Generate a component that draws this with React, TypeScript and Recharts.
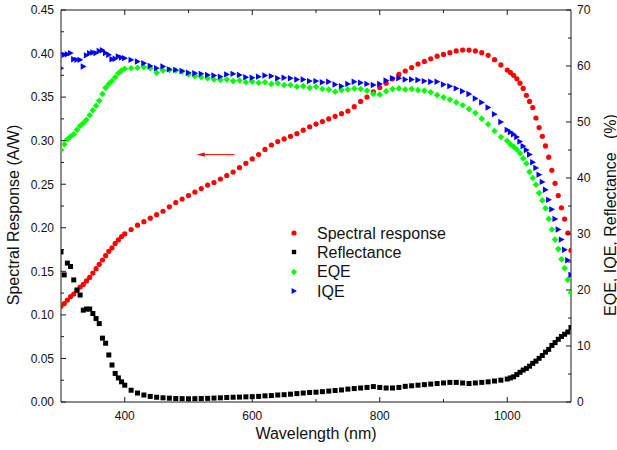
import React from 'react';
import { ScatterChart, Scatter, XAxis, YAxis, Legend, ReferenceLine } from 'recharts';

const FONT = '"Liberation Sans", Arial, sans-serif';
const AXIS_COLOR = '#1a1a1a';
const TEXT_COLOR = '#111111';

// Wavelength (nm)
const wavelength = [
  300, 305, 310, 315, 320, 325, 330, 335, 340, 345, 350, 355, 360, 365, 370, 375, 380, 385, 390, 395, 400,
  410, 420, 430, 440, 450, 460, 470, 480, 490, 500,
  510, 520, 530, 540, 550, 560, 570, 580, 590, 600,
  610, 620, 630, 640, 650, 660, 670, 680, 690, 700,
  710, 720, 730, 740, 750, 760, 770, 780, 790, 800,
  810, 820, 830, 840, 850, 860, 870, 880, 890, 900,
  910, 920, 930, 940, 950, 960, 970, 980, 990,
  1000, 1005, 1010, 1015, 1020, 1025, 1030, 1035, 1040, 1045, 1050,
  1055, 1060, 1065, 1070, 1075, 1080, 1085, 1090, 1095, 1100,
];

// Spectral response (A/W) - left axis
const spectralResponse = [
  0.110, 0.113, 0.117, 0.121, 0.124, 0.128, 0.132, 0.135, 0.139, 0.143, 0.148, 0.153, 0.158, 0.163, 0.168, 0.173, 0.177, 0.182, 0.186, 0.190, 0.193,
  0.198, 0.203, 0.207, 0.211, 0.215, 0.219, 0.224, 0.229, 0.233, 0.237,
  0.241, 0.245, 0.249, 0.252, 0.256, 0.260, 0.264, 0.269, 0.274, 0.279,
  0.284, 0.290, 0.295, 0.299, 0.302, 0.305, 0.308, 0.312, 0.316, 0.319,
  0.322, 0.325, 0.328, 0.331, 0.334, 0.339, 0.345, 0.350, 0.356, 0.361,
  0.366, 0.371, 0.376, 0.380, 0.384, 0.388, 0.391, 0.394, 0.397, 0.399,
  0.401, 0.403, 0.404, 0.404, 0.403, 0.401, 0.398, 0.393, 0.387,
  0.381, 0.378, 0.375, 0.371, 0.366, 0.360, 0.352, 0.345, 0.338, 0.326, 0.315,
  0.305, 0.294, 0.281, 0.266, 0.251, 0.237, 0.223, 0.210, 0.194, 0.174,
];

// Reflectance (%) - right axis
const reflectance = [
  26.8, 22.7, 24.8, 24.2, 21.8, 20.0, 19.1, 16.4, 16.6, 16.6, 15.8, 14.9, 14.0, 11.4, 10.5, 8.4, 6.6, 5.1, 4.3, 3.6, 3.0,
  2.1, 1.6, 1.25, 1.0, 0.85, 0.75, 0.68, 0.62, 0.6, 0.58,
  0.6, 0.62, 0.65, 0.7, 0.75, 0.8, 0.85, 0.88, 0.92, 0.95,
  1.0, 1.1, 1.15, 1.25, 1.3, 1.4, 1.5, 1.6, 1.7, 1.75,
  1.85, 1.95, 2.05, 2.15, 2.3, 2.4, 2.5, 2.6, 2.75, 2.6,
  2.5, 2.5, 2.6, 2.8, 2.9, 3.0, 3.1, 3.2, 3.3, 3.4,
  3.5, 3.5, 3.4, 3.3, 3.4, 3.5, 3.6, 3.75, 3.9,
  4.1, 4.3, 4.5, 4.9, 5.3, 5.7, 6.0, 6.4, 6.9, 7.3, 7.8,
  8.3, 8.9, 9.4, 10.1, 10.6, 11.2, 11.7, 12.1, 12.5, 13.3,
];

// EQE (%) - right axis
const eqe = [
  45.0, 46.0, 46.9, 47.4, 47.8, 48.6, 49.3, 49.8, 50.4, 51.2, 52.1, 52.9, 53.8, 55.0, 56.1, 56.8, 57.3, 58.0, 58.7, 59.2, 59.5,
  59.6, 59.7, 59.8, 59.6, 58.8, 59.2, 59.3, 59.2, 59.0, 58.5,
  58.2, 58.0, 57.8, 57.6, 57.5, 57.6, 57.3, 57.4, 57.1, 57.2,
  57.0, 57.1, 56.8, 56.9, 56.6, 56.6, 56.3, 56.4, 56.1, 56.3,
  55.9, 55.8, 55.4, 55.7, 55.8, 56.0, 55.9, 55.6, 55.0, 54.9,
  55.5, 55.9, 56.0, 55.8, 55.9, 55.7, 55.6, 55.3, 54.8, 54.4,
  54.0, 53.5, 53.0, 52.3, 51.6, 50.6, 49.6, 48.4, 47.3,
  46.6, 46.0, 45.6, 45.1, 44.4, 43.5, 42.6, 41.1, 40.0, 38.8, 37.3,
  36.0, 34.6, 32.7, 30.8, 29.0, 27.3, 25.5, 23.9, 21.8, 19.5,
];

// IQE (%) - right axis
const iqe = [
  59.6, 62.0, 62.1, 62.3, 61.2, 61.1, 61.1, 59.9, 61.9, 62.3, 62.4, 62.3, 62.7, 62.8, 62.3, 62.0, 61.2, 61.3, 61.7, 61.5, 61.4,
  61.1, 60.8, 60.5, 60.0, 59.6, 59.9, 59.4, 59.3, 59.1, 58.8,
  58.7, 58.6, 58.4, 58.3, 58.1, 58.5, 58.6, 58.4, 58.0, 57.9,
  58.1, 58.3, 58.2, 57.8, 57.9, 57.8, 57.6, 57.6, 57.3, 57.3,
  57.1, 57.2, 56.7, 56.4, 56.8, 57.2, 57.0, 56.8, 56.6, 56.8,
  57.4, 57.8, 57.8, 57.6, 57.6, 57.5, 57.3, 57.2, 57.2, 56.7,
  56.4, 56.0, 55.5, 55.0, 54.2, 53.5, 52.6, 51.4, 50.0,
  48.6, 48.2, 47.8, 47.3, 46.5, 45.7, 45.0, 44.2, 42.8, 41.8, 40.6,
  39.3, 37.9, 36.1, 34.4, 32.7, 30.8, 29.0, 27.2, 25.3, 22.7,
];

const seriesNames = ['Spectral response', 'Reflectance', 'EQE', 'IQE'];
const seriesColors = ['#ff0000', '#000000', '#00ff00', '#0000ff'];

const xTicks = [400, 500, 600, 700, 800, 900, 1000];
const leftTicks = [0, 0.025, 0.05, 0.075, 0.1, 0.125, 0.15, 0.175, 0.2, 0.225, 0.25, 0.275, 0.3, 0.325, 0.35, 0.375, 0.4, 0.425, 0.45];
const rightTicks = [0, 5, 10, 15, 20, 25, 30, 35, 40, 45, 50, 55, 60, 65, 70];

const xTitle = 'Wavelength (nm)';
const leftTitle = 'Spectral Response (A/W)';
const rightTitle = 'EQE, IQE, Reflectance   (%)';

// annotation arrow (points to left axis)
const arrowFrom = { x: 572, y: 0.284 };
const arrowTo = { x: 513, y: 0.284 };

const toPoints = (vals: number[]) => wavelength.map((w, i) => ({ x: w, y: vals[i] }));
const srData = toPoints(spectralResponse);
const reflData = toPoints(reflectance);
const eqeData = toPoints(eqe);
const iqeData = toPoints(iqe);

const CircleMark = (p: any) =>
  p.cx == null ? <g /> : <circle cx={p.cx} cy={p.cy} r={2.6} fill={seriesColors[0]} />;
const SquareMark = (p: any) =>
  p.cx == null ? <g /> : <rect x={p.cx - 2.5} y={p.cy - 2.5} width={5} height={5} fill={seriesColors[1]} />;
const DiamondMark = (p: any) => {
  if (p.cx == null) return <g />;
  const { cx, cy } = p;
  const r = 3.3;
  return <polygon points={`${cx},${cy - r} ${cx + r},${cy} ${cx},${cy + r} ${cx - r},${cy}`} fill={seriesColors[2]} />;
};
const TriangleMark = (p: any) => {
  if (p.cx == null) return <g />;
  const { cx, cy } = p;
  return <polygon points={`${cx - 2.6},${cy - 3.2} ${cx + 3.2},${cy} ${cx - 2.6},${cy + 3.2}`} fill={seriesColors[3]} />;
};

const tickText = { fontFamily: FONT, fontSize: 12, fill: TEXT_COLOR };

const BottomTick = (props: any) => {
  const { x, y, payload } = props;
  const v = payload.value;
  const major = v % 200 === 0;
  return (
    <g>
      <line x1={x} x2={x} y1={y} y2={y - (major ? 5 : 3)} stroke={AXIS_COLOR} />
      {major && (
        <text x={x} y={y + 18} textAnchor="middle" {...tickText}>
          {v}
        </text>
      )}
    </g>
  );
};

const TopTick = (props: any) => {
  const { x, y, payload } = props;
  const major = payload.value % 200 === 0;
  return <line x1={x} x2={x} y1={y} y2={y + (major ? 5 : 3)} stroke={AXIS_COLOR} />;
};

const LeftTick = (props: any) => {
  const { x, y, payload } = props;
  const v = payload.value;
  const major = Math.round(v * 1000) % 50 === 0;
  return (
    <g>
      <line x1={x} x2={x + (major ? 5 : 3)} y1={y} y2={y} stroke={AXIS_COLOR} />
      {major && (
        <text x={x - 7} y={y + 4.3} textAnchor="end" {...tickText}>
          {v.toFixed(2)}
        </text>
      )}
    </g>
  );
};

const RightTick = (props: any) => {
  const { x, y, payload } = props;
  const v = payload.value;
  const major = v % 10 === 0;
  return (
    <g>
      <line x1={x} x2={x - (major ? 5 : 3)} y1={y} y2={y} stroke={AXIS_COLOR} />
      {major && (
        <text x={x + 6} y={y + 4.3} textAnchor="start" {...tickText}>
          {v}
        </text>
      )}
    </g>
  );
};

const ArrowShape = (props: any) => {
  const { x1, y1, x2, y2 } = props;
  if ([x1, y1, x2, y2].some((v) => v == null || Number.isNaN(v))) return <g />;
  const dx = x2 - x1;
  const dy = y2 - y1;
  const len = Math.sqrt(dx * dx + dy * dy) || 1;
  const ux = dx / len;
  const uy = dy / len;
  const hl = 8;
  const hw = 2.2;
  const bx = x2 - ux * hl;
  const by = y2 - uy * hl;
  return (
    <g>
      <line x1={x1} y1={y1} x2={bx} y2={by} stroke="#ff0000" strokeWidth={1} />
      <polygon
        points={`${x2},${y2} ${bx - uy * hw},${by + ux * hw} ${bx + uy * hw},${by - ux * hw}`}
        fill="#ff0000"
      />
    </g>
  );
};

const LegendMarker = ({ i }: { i: number }) => {
  const c = 6;
  if (i === 0) return <circle cx={c} cy={c} r={2.6} fill={seriesColors[0]} />;
  if (i === 1) return <rect x={c - 2.2} y={c - 2.2} width={4.4} height={4.4} fill={seriesColors[1]} />;
  if (i === 2)
    return <polygon points={`${c},${c - 3.2} ${c + 3.2},${c} ${c},${c + 3.2} ${c - 3.2},${c}`} fill={seriesColors[2]} />;
  return <polygon points={`${c - 2.4},${c - 3} ${c + 3},${c} ${c - 2.4},${c + 3}`} fill={seriesColors[3]} />;
};

const LegendContent = () => (
  <div style={{ fontFamily: FONT, fontSize: 16, color: TEXT_COLOR }}>
    {seriesNames.map((n, i) => (
      <div key={n} style={{ display: 'flex', alignItems: 'center', height: 19.3, whiteSpace: 'nowrap' }}>
        <svg width={12} height={12} style={{ display: 'block' }}>
          <LegendMarker i={i} />
        </svg>
        <span style={{ marginLeft: 17, lineHeight: '19px' }}>{n}</span>
      </div>
    ))}
  </div>
);

export default function App() {
  return (
    <div style={{ position: 'absolute', left: 0, top: 0, width: 617, height: 450, background: '#ffffff' }}>
      <ScatterChart width={617} height={450} margin={{ top: 9, right: 0, bottom: 0, left: 0 }}>
        <XAxis
          xAxisId={0}
          dataKey="x"
          type="number"
          domain={[300, 1100]}
          allowDataOverflow
          ticks={xTicks}
          interval={0}
          height={48}
          tickSize={0}
          tickMargin={0}
          tickLine={false}
          axisLine={{ stroke: AXIS_COLOR }}
          tick={BottomTick}
        />
        <XAxis
          xAxisId="top"
          orientation="top"
          dataKey="x"
          type="number"
          domain={[300, 1100]}
          allowDataOverflow
          ticks={xTicks}
          interval={0}
          height={1}
          tickSize={0}
          tickMargin={0}
          tickLine={false}
          axisLine={{ stroke: AXIS_COLOR }}
          tick={TopTick}
        />
        <YAxis
          yAxisId="left"
          dataKey="y"
          type="number"
          domain={[0, 0.45]}
          allowDataOverflow
          ticks={leftTicks}
          interval={0}
          width={61}
          tickSize={0}
          tickMargin={0}
          tickLine={false}
          axisLine={{ stroke: AXIS_COLOR }}
          tick={LeftTick}
        />
        <YAxis
          yAxisId="right"
          orientation="right"
          dataKey="y"
          type="number"
          domain={[0, 70]}
          allowDataOverflow
          ticks={rightTicks}
          interval={0}
          width={46}
          tickSize={0}
          tickMargin={0}
          tickLine={false}
          axisLine={{ stroke: AXIS_COLOR }}
          tick={RightTick}
        />
        <Scatter name={seriesNames[0]} data={srData} yAxisId="left" shape={CircleMark} isAnimationActive={false} />
        <Scatter name={seriesNames[1]} data={reflData} yAxisId="right" shape={SquareMark} isAnimationActive={false} />
        <Scatter name={seriesNames[2]} data={eqeData} yAxisId="right" shape={DiamondMark} isAnimationActive={false} />
        <Scatter name={seriesNames[3]} data={iqeData} yAxisId="right" shape={TriangleMark} isAnimationActive={false} />
        <ReferenceLine
          yAxisId="left"
          segment={[arrowFrom, arrowTo]}
          stroke="#ff0000"
          ifOverflow="visible"
          shape={ArrowShape}
        />
        <Legend
          layout="vertical"
          align="center"
          verticalAlign="middle"
          content={<LegendContent />}
          wrapperStyle={{ left: 288, top: 223.5, width: 200 }}
        />
      </ScatterChart>
      <svg
        width={617}
        height={450}
        style={{ position: 'absolute', left: 0, top: 0, pointerEvents: 'none' }}
      >
        <text x={316} y={439} textAnchor="middle" fontFamily={FONT} fontSize={16} fill={TEXT_COLOR}>
          {xTitle}
        </text>
        <text
          transform="translate(18.5, 215) rotate(-90)"
          textAnchor="middle"
          fontFamily={FONT}
          fontSize={16}
          fill={TEXT_COLOR}
        >
          {leftTitle}
        </text>
        <text
          transform="translate(615.5, 215) rotate(-90)"
          textAnchor="middle"
          fontFamily={FONT}
          fontSize={16}
          fill={TEXT_COLOR}
          style={{ whiteSpace: 'pre' }}
        >
          {rightTitle}
        </text>
      </svg>
    </div>
  );
}
